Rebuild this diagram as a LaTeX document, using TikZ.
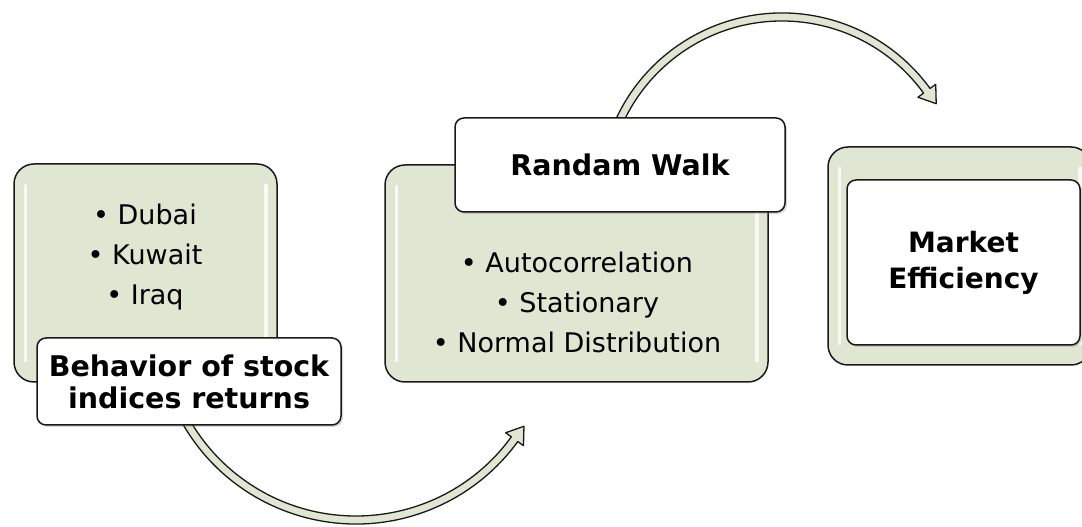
\documentclass[tikz,border=0pt]{standalone}
\usepackage{fontspec}
\setmainfont{DejaVu Sans}
\usetikzlibrary{calc,shadows}
\definecolor{boxgreen}{HTML}{DFE6D2}
\begin{document}
\begin{tikzpicture}[x=1pt,y=1pt,line join=round,
	greenbox/.style={draw=black!90,line width=1.5,fill=boxgreen,rounded corners=20,inner sep=0},
	labelbox/.style={draw=black!90,line width=1.5,fill=white,rounded corners=9,inner sep=0,align=center,
		drop shadow={shadow xshift=2,shadow yshift=-2,opacity=0.3}},
	titletext/.style={font=\fontsize{28.5}{32}\selectfont\bfseries},
	listtext/.style={align=center,inner sep=0,font=\fontsize{27}{40}\selectfont},
	arrowbody/.style={draw=black!90,line width=1.3,fill=boxgreen},
	gloss/.style={white,line width=3.5,line cap=round,opacity=0.8}]
	\useasboundingbox (0,0) rectangle (1082,527);
	% green boxes
	\node[greenbox,minimum width=263,minimum height=218] (box1) at (145.5,254) {};
	\node[greenbox,minimum width=383,minimum height=217] (box2) at (576.5,253.5) {};
	\node[greenbox,minimum width=263,minimum height=218] (box3) at (959.5,271) {};
	\foreach \b in {box1,box2,box3}{
		\draw[gloss]([xshift=12,yshift=-22]\b.north west)--([xshift=12,yshift=22]\b.south west);
		\draw[gloss]([xshift=-12,yshift=-22]\b.north east)--([xshift=-12,yshift=22]\b.south east);}
	% bullet lists
	\node[listtext] (list1) at (145,270) {• Dubai\\• Kuwait\\• Iraq};
	\node[listtext] (list2) at (577,225) {• Autocorrelation\\• Stationary\\• Normal Distribution};
	% curved arrows
	\coordinate (c1) at (356,203);
	\coordinate (c2) at (782,331);
	\draw[arrowbody] ($(c1)+(205:200)$) arc[start angle=205,end angle=324,radius=200]
		-- ($(c1)+(324:207)$) -- ($(c1)+(324:196)+(54:16)$) -- ($(c1)+(324:185)$)
		-- ($(c1)+(324:192)$) arc[start angle=324,end angle=205,radius=192] -- cycle;
	\draw[arrowbody] ($(c2)+(160:183)$) arc[start angle=160,end angle=36,radius=183]
		-- ($(c2)+(36:190)$) -- ($(c2)+(36:179)+(-54:16)$) -- ($(c2)+(36:168)$)
		-- ($(c2)+(36:175)$) arc[start angle=36,end angle=160,radius=175] -- cycle;
	% titles
	\node[labelbox,titletext,minimum width=304,minimum height=87] (title1) at (189,145.5) {Behavior of stock\\indices returns};
	\node[labelbox,titletext,minimum width=330,minimum height=94] (title2) at (620,362) {Randam Walk};
	\node[labelbox,titletext,font=\fontsize{28}{36}\selectfont\bfseries,minimum width=233,minimum height=165] (title3) at (963.5,264.5) {Market\\Efficiency};
\end{tikzpicture}
\end{document}
